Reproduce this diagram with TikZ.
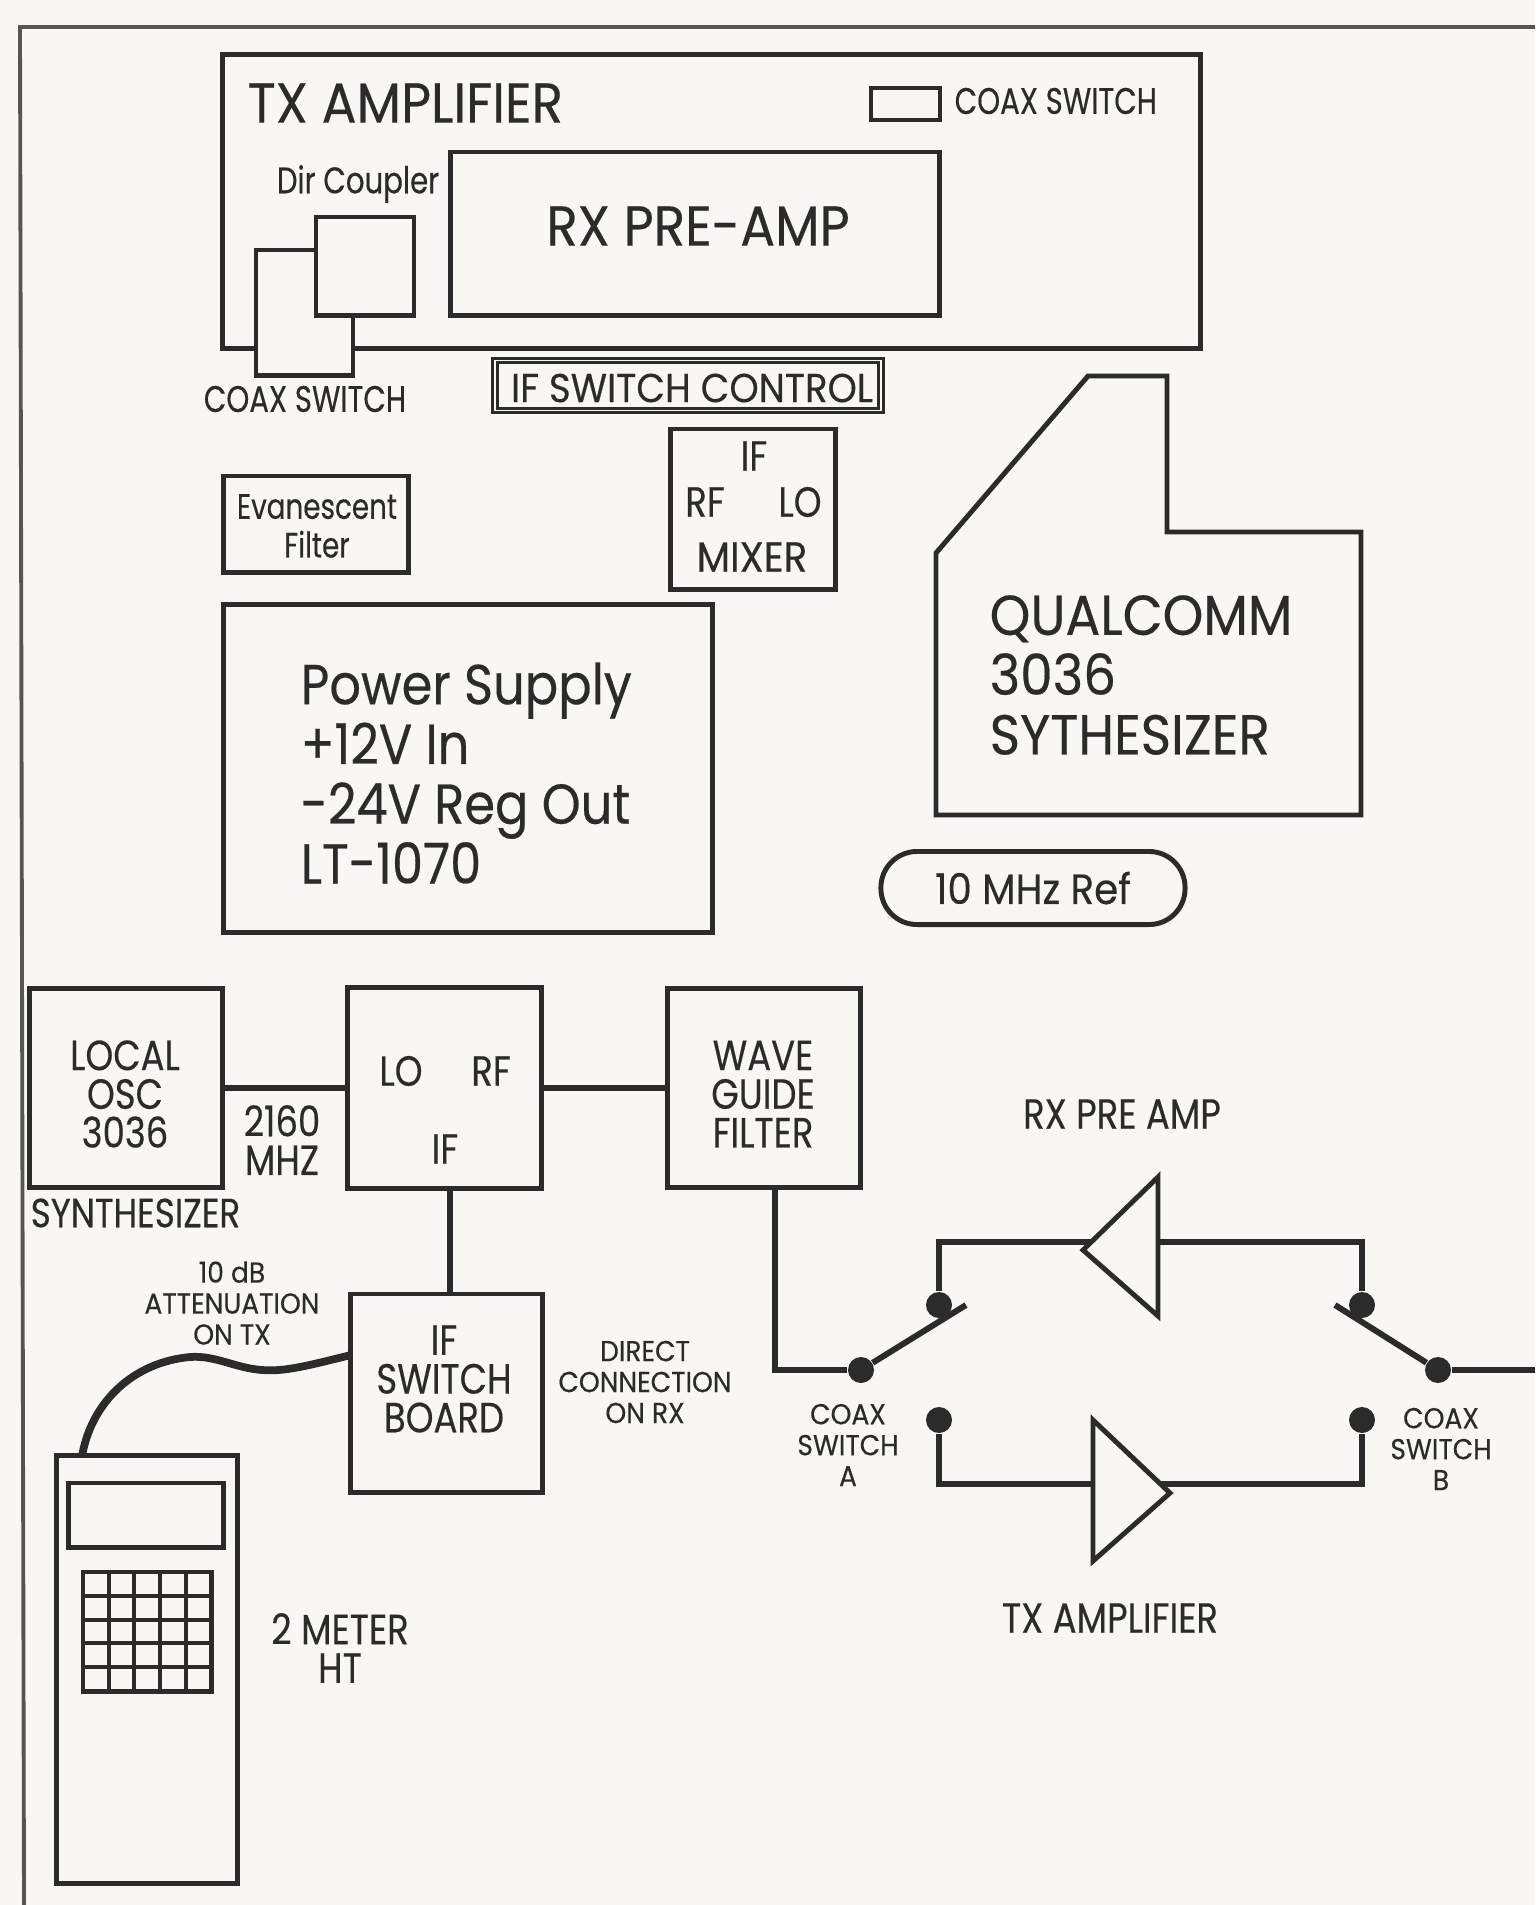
\documentclass[tikz,border=0pt]{standalone}
\usepackage{xcolor}
\usepackage{fontspec}
\setmainfont[FakeStretch=0.84,FakeBold=0.35]{Poppins}
\newfontfamily\fwide[FakeStretch=0.92,FakeBold=0.35]{Poppins}
\newfontfamily\fpowr[FakeStretch=0.88,FakeBold=0.35]{Poppins}
\newfontfamily\fnarw[FakeStretch=0.79,FakeBold=0.35]{Poppins}
\usepackage{tikz}
\usetikzlibrary{positioning}
\definecolor{paper}{HTML}{F8F7F3}
\definecolor{ink}{HTML}{2B2B2B}

\begin{document}
\begin{tikzpicture}[
    x=0.01cm, y=-0.01cm,
    box/.style={draw=ink, line width=1.4pt, fill=paper, inner sep=0pt},
    wire/.style={draw=ink, line width=1.7pt},
    swdot/.style={circle, fill=ink, minimum size=0.26cm, inner sep=0pt},
    txtbig/.style={text=ink, inner sep=0pt, align=center, font=\fwide\fontsize{16}{17}\selectfont},
    txtpow/.style={text=ink, inner sep=0pt, align=left, font=\fpowr\fontsize{16}{17}\selectfont},
    txtmid/.style={text=ink, inner sep=0pt, align=center, font=\fontsize{12}{11}\selectfont},
    txtwid/.style={text=ink, inner sep=0pt, align=center, font=\fwide\fontsize{12}{11}\selectfont},
    txtsml/.style={text=ink, inner sep=0pt, align=center, font=\fnarw\fontsize{10.5}{11}\selectfont},
    txttiny/.style={text=ink, inner sep=0pt, align=center, font=\fwide\fontsize{8.2}{8.8}\selectfont}
]
\useasboundingbox (0,0) rectangle (1535,1905);
\fill[paper] (0,0) rectangle (1535,1905);
\coordinate (frametr) at (1535,27);
\coordinate (frametl) at (20,27);
\coordinate (framebl) at (24,1905);
\draw[draw=ink!80, line width=1.1pt] (frametr) -- (frametl) -- (framebl);

% upper drawing
\node[box, minimum width=9.77cm, minimum height=2.93cm] (txamp) at (711.5,201.5) {};
\node[txtbig, anchor=west] (txamptxt) at (247,103) {TX AMPLIFIER};
\node[box, minimum width=0.69cm, minimum height=0.32cm] (coaxkey) at (905.5,104) {};
\node[txtsml, anchor=west] (coaxkeytxt) at (954,101) {COAX SWITCH};
\node[box, minimum width=4.88cm, minimum height=1.63cm] (rxamp) at (695,233.5) {};
\node[txtbig] (rxamptxt) at (698,226) {RX PRE-AMP};
\node[txtsml] (dirtxt) at (358,184) {Dir Coupler};
\node[box, minimum width=0.97cm, minimum height=1.25cm] (coaxtop) at (304.5,312.5) {};
\node[box, minimum width=0.98cm, minimum height=0.98cm] (dircoup) at (365,266) {};
\node[txtsml] (coaxtxt) at (305,399) {COAX SWITCH};
\node[box, double=paper, double distance=0.4pt, line width=0.9pt, minimum width=3.86cm, minimum height=0.50cm] (ifctl) at (688,385.5) {};
\node[txtwid, font=\fwide\fontsize{11.5}{11}\selectfont] (ifctltxt) at (692,388) {IF SWITCH CONTROL};
\node[box, minimum width=1.64cm, minimum height=1.60cm] (mixer) at (753,509) {};
\node[txtmid] (mixif) at (754,456) {IF};
\node[txtmid] (mixrf) at (705,502) {RF};
\node[txtmid] (mixlo) at (800,502) {LO};
\node[txtwid] (mixtxt) at (752,557) {MIXER};
\node[box, minimum width=1.84cm, minimum height=0.96cm] (evan) at (316,524) {};
\node[txtsml, font=\fnarw\fontsize{10}{11}\selectfont] (evantxt) at (317,526) {Evanescent\\Filter};
\node[box, minimum width=4.88cm, minimum height=3.27cm] (power) at (468,768.5) {};
\node[txtpow, anchor=west] (powertxt) at (300,773) {Power Supply\\+12V In\\-24V Reg Out\\LT-1070};
\coordinate (qa) at (936,553);
\coordinate (qb) at (1088,376);
\coordinate (qc) at (1167,376);
\coordinate (qd) at (1167,532);
\coordinate (qe) at (1361,532);
\coordinate (qf) at (1361,815);
\coordinate (qg) at (936,815);
\draw[draw=ink, line width=1.4pt] (qa) -- (qb) -- (qc) -- (qd) -- (qe) -- (qf) -- (qg) -- cycle;
\node[txtbig, align=left, anchor=west] (qualtxt) at (989,675) {QUALCOMM\\3036\\SYTHESIZER};
\node[box, rounded corners=0.36cm, minimum width=3.04cm, minimum height=0.73cm, txtwid] (refosc) at (1033,888) {10 MHz Ref};

% lower drawing
\node[box, minimum width=1.92cm, minimum height=1.98cm] (osc) at (126,1088) {};
\node[txtmid] (osctxt) at (125,1094) {LOCAL\\OSC\\3036};
\node[txtmid, anchor=west, font=\fontsize{11.6}{11}\selectfont] (synthtxt) at (30,1213) {SYNTHESIZER};
\node[box, minimum width=1.93cm, minimum height=2.00cm] (mid) at (444.5,1088) {};
\node[txtmid] (midlo) at (401,1071) {LO};
\node[txtmid] (midrf) at (491,1071) {RF};
\node[txtmid] (midif) at (445,1149) {IF};
\node[box, minimum width=1.92cm, minimum height=1.98cm] (wave) at (764,1088) {};
\node[txtmid] (wavetxt) at (763,1094) {WAVE\\GUIDE\\FILTER};
\node[txtmid] (lotxt) at (282,1140) {2160\\MHZ};
\node[box, minimum width=1.91cm, minimum height=1.98cm] (ifbd) at (446.5,1393) {};
\node[txtmid] (ifbdtxt) at (444,1379) {IF\\SWITCH\\BOARD};
\node[txttiny] (atttxt) at (232,1303) {10 dB\\ATTENUATION\\ON TX};
\node[txttiny] (dirrxtxt) at (645,1382) {DIRECT\\CONNECTION\\ON RX};
\node[box, minimum width=1.80cm, minimum height=4.27cm] (ht) at (147,1669.5) {};
\node[box, minimum width=1.54cm, minimum height=0.64cm] (htdisp) at (146,1515) {};
\node[box, minimum width=1.28cm, minimum height=1.19cm] (keypad) at (147,1631.5) {};
\foreach \kx in {109,134,160,186} \draw[draw=ink, line width=1.1pt] (\kx,1572) -- (\kx,1691);
\foreach \ky in {1596,1620,1643,1667} \draw[draw=ink, line width=1.1pt] (83,\ky) -- (211,\ky);
\node[txtmid] (httxt) at (340,1648) {2 METER\\HT};

\draw[wire] (osc.east) -- (mid.west);
\draw[wire] (mid.east) -- (wave.west);
\draw[wire] ([xshift=1pt]ifbd.north) -- ([xshift=1pt]ifbd.north |- mid.south);
\coordinate (cablein) at (351,1355);
\coordinate (cableout) at (82,1456);
\draw[wire, line width=2.2pt] (cablein) .. controls (310,1365) and (285,1372) .. (262,1370)
    .. controls (235,1368) and (215,1355) .. (190,1357)
    .. controls (135,1362) and (92,1400) .. (cableout);

% switches and amplifiers
\node[swdot] (swa) at (861,1370) {};
\node[swdot] (swaup) at (939,1305) {};
\node[swdot] (swalo) at (939,1420) {};
\node[swdot] (swb) at (1438,1370) {};
\node[swdot] (swbup) at (1362,1305) {};
\node[swdot] (swblo) at (1362,1420) {};
\coordinate (bladea) at (966,1305);
\coordinate (bladeb) at (1335,1305);
\coordinate (rfout) at (1535,1370);
\coordinate (rxin) at (1158,1242);
\coordinate (rxout) at (1095,1242);
\coordinate (txin) at (1093,1484);
\coordinate (txout) at (1160,1484);
\draw[wire] ([xshift=3pt]wave.south) |- (swa);
\draw[wire] (swa) -- (bladea);
\draw[wire] (swb) -- (bladeb);
\draw[wire] (swb) -- (rfout);
\draw[wire] (swaup) |- (rxout);
\draw[wire] (swbup) |- (rxin);
\draw[wire] (swalo) |- (txin);
\draw[wire] (swblo) |- (txout);
\coordinate (rxtip) at (1083,1250);
\coordinate (rxtop) at (1158,1177);
\coordinate (rxbot) at (1158,1316);
\coordinate (txtip) at (1170,1493);
\coordinate (txtop) at (1093,1420);
\coordinate (txbot) at (1093,1561);
\draw[draw=ink, line width=1.4pt, fill=paper] (rxtip) -- (rxtop) -- (rxbot) -- cycle;
\draw[draw=ink, line width=1.4pt, fill=paper] (txtip) -- (txtop) -- (txbot) -- cycle;
\node[txttiny] (swatxt) at (848,1445) {COAX\\SWITCH\\A};
\node[txttiny] (swbtxt) at (1441,1449) {COAX\\SWITCH\\B};
\node[txtmid] (rxlbl) at (1122,1114) {RX PRE AMP};
\node[txtmid] (txlbl) at (1110,1618) {TX AMPLIFIER};
\end{tikzpicture}
\end{document}
